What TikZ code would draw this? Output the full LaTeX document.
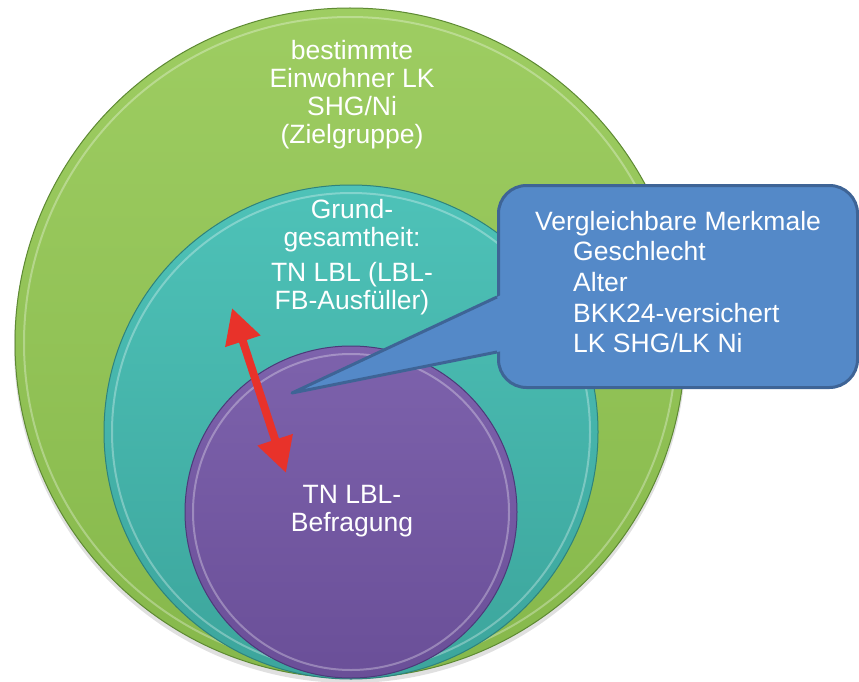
\documentclass[tikz,border=0pt]{standalone}
\usepackage{fontspec}
\setmainfont{Liberation Sans}
\usetikzlibrary{arrows.meta}
\definecolor{grnTop}{HTML}{9ECD62}
\definecolor{grnBot}{HTML}{86B84B}
\definecolor{grnLine}{HTML}{5E8A33}
\definecolor{tealTop}{HTML}{4EC2B8}
\definecolor{tealBot}{HTML}{3CA59C}
\definecolor{tealLine}{HTML}{2E837D}
\definecolor{purTop}{HTML}{7D62AC}
\definecolor{purBot}{HTML}{6A4F98}
\definecolor{purLine}{HTML}{4C3A7A}
\definecolor{boxFill}{HTML}{5489C8}
\definecolor{boxLine}{HTML}{3E6496}
\definecolor{arrRed}{HTML}{E8322A}
\begin{document}
\begin{tikzpicture}[x=1pt,y=-1pt,
  disc/.style={circle,inner sep=0pt,outer sep=0pt,line width=1pt},
  bevel/.style={white,opacity=.3,line width=2pt},
  lbl/.style={text=white,align=center,inner sep=0pt,font=\fontsize{26.5}{28}\selectfont},
  callbox/.style={draw=boxLine,fill=boxFill,line width=3pt,rounded corners=28pt,inner sep=0pt},
  ctext/.style={text=white,align=left,inner sep=0pt,font=\fontsize{26.5}{30.6}\selectfont},
  redarrow/.style={draw=arrRed,line width=8pt,{Triangle[width=35pt,length=35pt,fill=arrRed]}-{Triangle[width=35pt,length=35pt,fill=arrRed]}}
]
\useasboundingbox (0,0) rectangle (859,682);
% shadow
\fill[black,opacity=.12] (350,347) circle[radius=336pt];
% circles
\node[disc,minimum size=670pt,top color=grnTop,bottom color=grnBot,draw=grnLine] (green) at (350,343) {};
\draw[bevel] (green.center) circle[radius=326pt];
\node[disc,minimum size=494pt,top color=tealTop,bottom color=tealBot,draw=tealLine] (teal) at (351,432) {};
\draw[bevel] (teal.center) circle[radius=239pt];
\node[disc,minimum size=332pt,top color=purTop,bottom color=purBot,draw=purLine] (purple) at (351,512) {};
\draw[bevel] (purple.center) circle[radius=158pt];
% labels (anchor base = baseline of the last line)
\node[lbl,anchor=base] (tz) at (352,143) {bestimmte\\Einwohner LK\\SHG/Ni\\(Zielgruppe)};
\node[lbl,anchor=base] (tg) at (352,309.5) {Grund-\\gesamtheit:\\[7.5pt]TN LBL (LBL-\\FB-Ausfüller)};
\node[lbl,anchor=base] (tb) at (352,531) {TN LBL-\\Befragung};
% red double arrow
\coordinate (ra) at (232,308);
\coordinate (rb) at (286,473);
\draw[redarrow] (ra) -- (rb);
% callout
\node[callbox,minimum width=359pt,minimum height=202pt,anchor=north west] (cb) at (497,184) {};
\coordinate (tip) at (292,393);
\coordinate (p1) at (497,297);
\coordinate (p2) at (497,352);
\fill[boxFill] (tip) -- (501,295.1) -- (506,295.1) -- (506,351.2) -- (501,351.2) -- cycle;
\draw[boxLine,line width=3pt,line join=round] (p1) -- (tip) -- (p2);
\node[ctext,anchor=base west] (ct) at (535,352.7) {Vergleichbare Merkmale\\\hspace*{38pt}Geschlecht\\\hspace*{38pt}Alter\\\hspace*{38pt}BKK24-versichert\\\hspace*{38pt}LK SHG/LK Ni};
\end{tikzpicture}
\end{document}
